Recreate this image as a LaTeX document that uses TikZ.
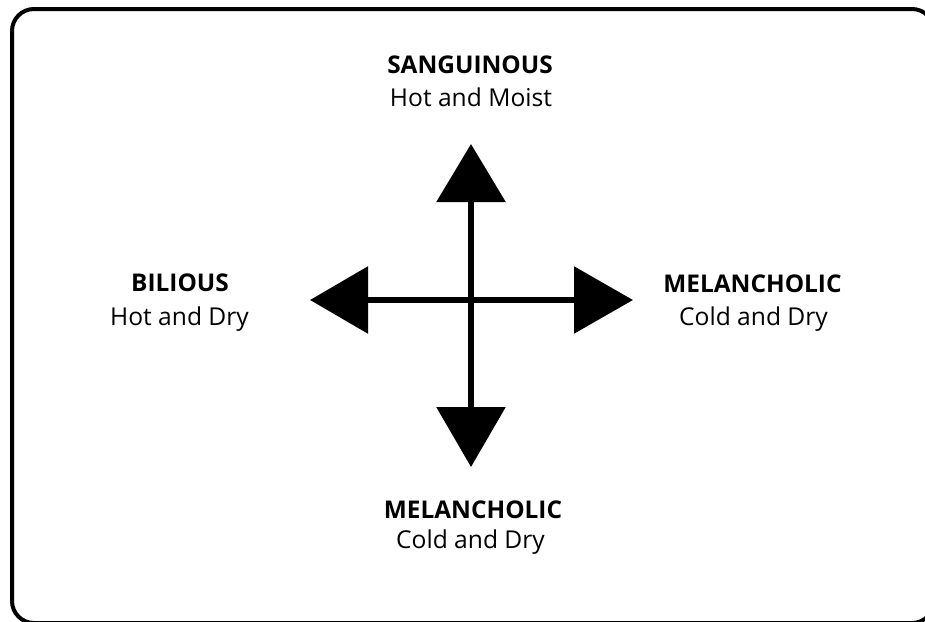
\documentclass[tikz,border=0pt]{standalone}
\usepackage{fontspec}
\setmainfont{Open Sans}
\usetikzlibrary{arrows.meta}
\tikzset{
  title/.style={font=\fontsize{24.4}{28}\selectfont\bfseries, anchor=base, inner sep=0pt},
  sub/.style={font=\fontsize{24.6}{28}\selectfont, anchor=base, inner sep=0pt},
  frame/.style={line width=4pt, rounded corners=22pt},
  axis/.style={line width=6pt},
  tipup/.style={-{Triangle[length=58pt,width=68pt]}},
}
\begin{document}
\begin{tikzpicture}[x=1pt,y=-1pt]
  \useasboundingbox (0,0) rectangle (925,621);
  \clip (0,0) rectangle (925,621);
  \draw[frame] (12,9) rectangle (934,623);
  \coordinate (c) at (471,300);
  \coordinate (up) at (471,144);
  \coordinate (down) at (471,467);
  \coordinate (left) at (310,300);
  \coordinate (right) at (633,300);
  \draw[axis, tipup] (c) -- (up);
  \draw[axis, -{Triangle[length=60pt,width=68pt]}] (c) -- (down);
  \draw[axis, -{Triangle[length=58pt,width=66pt]}] (c) -- (left);
  \draw[axis, -{Triangle[length=59pt,width=66pt]}] (c) -- (right);
  \node[title] (t1) at (470,73) {SANGUINOUS};
  \node[sub] (s1) at (471,106) {Hot and Moist};
  \node[title] (t2) at (180,291) {BILIOUS};
  \node[sub] (s2) at (179.5,325) {Hot and Dry};
  \node[title] (t3) at (752.5,292) {MELANCHOLIC};
  \node[sub] (s3) at (753.5,325) {Cold and Dry};
  \node[title] (t4) at (473,518) {MELANCHOLIC};
  \node[sub] (s4) at (470.5,548) {Cold and Dry};
\end{tikzpicture}
\end{document}
